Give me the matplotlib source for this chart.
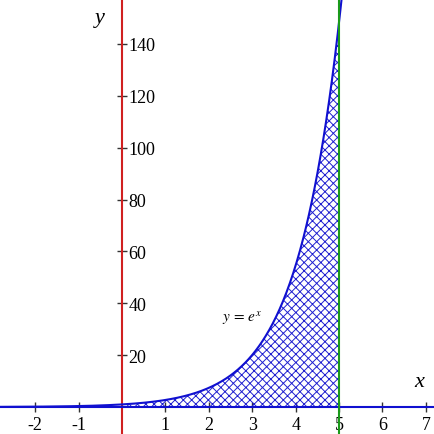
import numpy as np
import matplotlib.pyplot as plt

# data
x_ticks = [-2, -1, 1, 2, 3, 4, 5, 6, 7]
y_ticks = [20, 40, 60, 80, 100, 120, 140]
x_range = (-2.81, 7.21)
y_range = (-10.4, 157.3)
area_start, area_end = 0, 5

plt.rcParams['font.family'] = ['Liberation Serif', 'DejaVu Serif']
plt.rcParams['hatch.linewidth'] = 0.7
plt.rcParams['axes.unicode_minus'] = False

fig = plt.figure(figsize=(4.35, 4.35), dpi=100)
ax = fig.add_axes([0, 0, 1, 1])

xs = np.linspace(x_range[0], 5.06, 600)
ax.plot(xs, np.exp(xs), color='#1010d0', lw=1.5, zorder=4)

xf = np.linspace(area_start, area_end, 400)
ax.fill_between(xf, 0, np.exp(xf), facecolor='none', edgecolor='#2020d0',
                hatch='xxxx', linewidth=0, zorder=2)

ax.axvline(area_end, color='#1a9a1a', lw=1.5, zorder=5)

ax.set_xlim(*x_range)
ax.set_ylim(*y_range)

ax.spines['left'].set_position(('data', 0))
ax.spines['bottom'].set_position(('data', 0))
ax.spines['left'].set_color('#d02020')
ax.spines['left'].set_linewidth(1.5)
ax.spines['bottom'].set_color('#1010d0')
ax.spines['bottom'].set_linewidth(1.5)
ax.spines['right'].set_visible(False)
ax.spines['top'].set_visible(False)

ax.set_xticks(x_ticks)
ax.set_yticks(y_ticks)
ax.tick_params(direction='inout', length=7, width=1, color='#333333',
               labelcolor='black', labelsize=13)
ax.tick_params(axis='x', pad=3)
ax.tick_params(axis='y', pad=-8)
for lbl in ax.get_yticklabels():
    lbl.set_horizontalalignment('left')

ax.text(6.85, 6, 'x', style='italic', fontsize=16, ha='center', va='bottom')
ax.text(-0.5, 150, 'y', style='italic', fontsize=16, ha='center', va='center')
ax.text(2.3, 34.7, r'$y\,=\,e^x$', fontsize=11, ha='left', va='center',
        math_fontfamily='stix')

fig.savefig('out.png', dpi=100)
